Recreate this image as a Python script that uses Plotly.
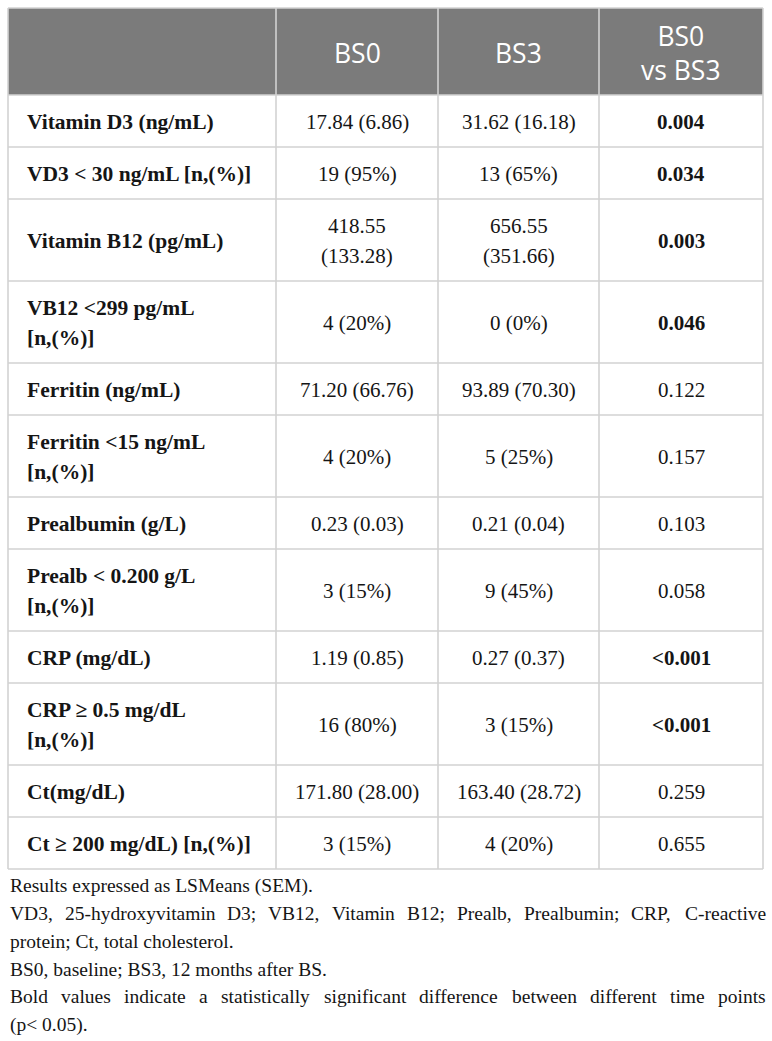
import plotly.graph_objects as go

# table content
columns = ["BS0", "BS3", "BS0\nvs BS3"]
labels = ["Vitamin D3 (ng/mL)", "VD3 < 30 ng/mL [n,(%)]", "Vitamin B12 (pg/mL)",
          "VB12 <299 pg/mL\n[n,(%)]", "Ferritin (ng/mL)", "Ferritin <15 ng/mL\n[n,(%)]",
          "Prealbumin (g/L)", "Prealb < 0.200 g/L\n[n,(%)]", "CRP (mg/dL)",
          "CRP \u2265 0.5 mg/dL\n[n,(%)]", "Ct(mg/dL)", "Ct \u2265 200 mg/dL) [n,(%)]"]
bs0 = ["17.84 (6.86)", "19 (95%)", "418.55\n(133.28)", "4 (20%)", "71.20 (66.76)", "4 (20%)",
       "0.23 (0.03)", "3 (15%)", "1.19 (0.85)", "16 (80%)", "171.80 (28.00)", "3 (15%)"]
bs3 = ["31.62 (16.18)", "13 (65%)", "656.55\n(351.66)", "0 (0%)", "93.89 (70.30)", "5 (25%)",
       "0.21 (0.04)", "9 (45%)", "0.27 (0.37)", "3 (15%)", "163.40 (28.72)", "4 (20%)"]
pvals = ["0.004", "0.034", "0.003", "0.046", "0.122", "0.157",
         "0.103", "0.058", "<0.001", "<0.001", "0.259", "0.655"]
significant = [True, True, True, True, False, False, False, False, True, True, False, False]
notes = ["Results expressed as LSMeans (SEM).",
         "VD3, 25-hydroxyvitamin D3; VB12, Vitamin B12; Prealb, Prealbumin; CRP, C-reactive",
         "protein; Ct, total cholesterol.",
         "BS0, baseline; BS3, 12 months after BS.",
         "Bold values indicate a statistically significant difference between different time points",
         "(p< 0.05)."]
justified = [False, True, False, False, True, False]

W, H = 772, 1041
col_x = [8, 276, 438, 599, 763]
top, head_h = 8, 87
line_h = 30
serif = "Liberation Serif"
ink = "#151515"
grid = "#d2d2d2"
note_size = 19.5

# Times-style advance widths (1/1000 em), used to justify footnote lines
widths = {" ": 250, "(": 333, ")": 333, ",": 250, "-": 333, ".": 250, "/": 278, ";": 278, "<": 564,
          "A": 722, "B": 667, "C": 667, "D": 722, "E": 611, "L": 611, "P": 556, "R": 667, "S": 556,
          "V": 722, "a": 444, "b": 500, "c": 444, "d": 500, "e": 444, "f": 333, "g": 500, "h": 500,
          "i": 278, "l": 278, "m": 778, "n": 500, "o": 500, "p": 500, "r": 333, "s": 389, "t": 278,
          "u": 500, "v": 500, "w": 722, "x": 500, "y": 500, "z": 444}

def text_w(s, size):
    return sum(widths.get(ch, 500) for ch in s) * size / 1000.0

fig = go.Figure()
shapes = []
annos = []

def add_text(x, y, txt, size, color=ink, family=serif, anchor="center", bold=False):
    annos.append(dict(x=x, y=y, xref="x", yref="y", showarrow=False, text=("<b>%s</b>" % txt) if bold else txt,
                      xanchor=anchor, yanchor="middle", font=dict(family=family, size=size, color=color)))

def add_lines(x, yc, txt, size, anchor="center", bold=False):
    parts = txt.split("\n")
    for i, p in enumerate(parts):
        add_text(x, yc + (i - (len(parts) - 1) / 2) * line_h, p, size, anchor=anchor, bold=bold)

# header
shapes.append(dict(type="rect", x0=col_x[0], x1=col_x[-1], y0=top, y1=top + head_h,
                   fillcolor="#7b7b7b", line=dict(width=0), layer="below"))
hc = top + head_h / 2 + 1
for j, c in enumerate(columns):
    add_text((col_x[j + 1] + col_x[j + 2]) / 2, hc, c.replace("\n", "<br>"), 26.5,
             color="white", family="Open Sans")

# body rows
y = top + head_h
row_edges = [y]
for k in range(len(labels)):
    n = max(len(s.split("\n")) for s in [labels[k], bs0[k], bs3[k]])
    h = 52 if n == 1 else 82
    yc = y + h / 2 + 1
    add_lines(col_x[0] + 17, yc, labels[k], 21.5, anchor="left", bold=True)
    add_lines((col_x[1] + col_x[2]) / 2, yc, bs0[k], 21)
    add_lines((col_x[2] + col_x[3]) / 2, yc, bs3[k], 21)
    add_lines((col_x[3] + col_x[4]) / 2, yc, pvals[k], 21, bold=significant[k])
    y += h
    row_edges.append(y)

# grid lines
for ye in [top] + row_edges:
    shapes.append(dict(type="line", x0=col_x[0], x1=col_x[-1], y0=ye, y1=ye, line=dict(color=grid, width=1.6)))
for xe in col_x:
    shapes.append(dict(type="line", x0=xe, x1=xe, y0=top, y1=row_edges[-1], line=dict(color=grid, width=1.6)))

# footnotes
fy = row_edges[-1] + 17
left, right = 8, 764
for i, t in enumerate(notes):
    yy = fy + i * 27.7
    if not justified[i]:
        add_text(left, yy, t, note_size, anchor="left")
        continue
    words = t.split(" ")
    natural = sum(text_w(w_, note_size) for w_ in words)
    gap = (right - left - natural) / (len(words) - 1)
    xx = left
    for w_ in words:
        add_text(xx, yy, w_, note_size, anchor="left")
        xx += text_w(w_, note_size) + gap

fig.update_layout(width=W, height=H, margin=dict(l=0, r=0, t=0, b=0),
                  paper_bgcolor="white", plot_bgcolor="white",
                  xaxis=dict(range=[0, W], visible=False, fixedrange=True),
                  yaxis=dict(range=[H, 0], visible=False, fixedrange=True),
                  shapes=shapes, annotations=annos, showlegend=False)
fig.write_html("out.html", config={"displayModeBar": False},
               post_script="document.body.style.margin='0';")
